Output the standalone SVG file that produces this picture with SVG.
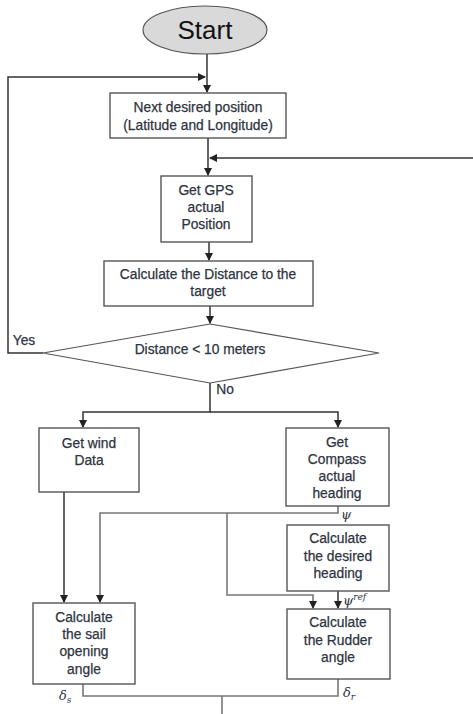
<svg xmlns="http://www.w3.org/2000/svg" width="473" height="714" viewBox="0 0 473 714">
<style>
.box{fill:#fff;stroke:#555;stroke-width:1.4}
.t{font-family:"Liberation Sans",Arial,sans-serif;font-size:13.8px;fill:#2e3440;stroke:#2e3440;stroke-width:0.25;text-anchor:middle}
.c{fill:none;stroke:#333;stroke-width:1.5}
.g{fill:none;stroke:#777;stroke-width:1.6}
.m{font-family:"DejaVu Serif","Liberation Serif",serif;font-style:italic;fill:#2e3440}
</style>
<defs>
<marker id="ah" markerWidth="8" markerHeight="8" refX="7" refY="4" orient="auto" markerUnits="userSpaceOnUse">
<path d="M0,0 L8,4 L0,8 Z" fill="#222"/>
</marker>
</defs>
<g id="connectors">
<path class="c" d="M207 54 V92" marker-end="url(#ah)"/>
<path class="c" d="M43 353 H8 V77 H205" marker-end="url(#ah)"/>
<path class="c" d="M208 138 V175" marker-end="url(#ah)"/>
<path class="c" d="M473 158 H210" marker-end="url(#ah)"/>
<path class="c" d="M209 242 V260" marker-end="url(#ah)"/>
<path class="c" d="M210 306 V323" marker-end="url(#ah)"/>
<path class="c" d="M210 383 V412 H83 V427" marker-end="url(#ah)"/>
<path class="c" d="M210 412 H338 V427" marker-end="url(#ah)"/>
<path class="c" d="M64 492 V602" marker-end="url(#ah)"/>
<path class="g" d="M338 506 V513 H100 V602" marker-end="url(#ah)"/>
<path class="g" d="M227 513 V595 H313 V608" marker-end="url(#ah)"/>
<path class="c" d="M338 591 V608" marker-end="url(#ah)"/>
<path class="g" d="M83 684 V696 H338 V679"/>
<path class="g" d="M222 696 V714"/>
</g>
<g id="start">
<ellipse cx="205" cy="30" rx="62" ry="24" fill="#d9d9d9" stroke="#555" stroke-width="1.2"/>
<text x="205" y="39" class="t" style="font-size:26px;fill:#111;stroke:none">Start</text>
</g>
<g id="next">
<rect class="box" x="110" y="93" width="176" height="45"/>
<text class="t" x="198" y="112">Next desired position</text>
<text class="t" x="198" y="130">(Latitude and Longitude)</text>
</g>
<g id="gps">
<rect class="box" x="161" y="176" width="91" height="66"/>
<text class="t" x="206" y="195">Get GPS</text>
<text class="t" x="206" y="212">actual</text>
<text class="t" x="206" y="229">Position</text>
</g>
<g id="distance">
<rect class="box" x="104" y="261" width="209" height="45"/>
<text class="t" x="208" y="279">Calculate the Distance to the</text>
<text class="t" x="208" y="296">target</text>
</g>
<g id="decision">
<polygon points="210,324 379,353 210,383 43,353" fill="#fff" stroke="#555" stroke-width="1.2"/>
<text class="t" x="200" y="354">Distance &lt; 10 meters</text>
<text class="t" x="24" y="345">Yes</text>
<text class="t" x="225" y="394">No</text>
</g>
<g id="wind">
<rect class="box" x="39" y="428" width="100" height="64"/>
<text class="t" x="89" y="448">Get wind</text>
<text class="t" x="89" y="465">Data</text>
</g>
<g id="compass">
<rect class="box" x="286" y="428" width="103" height="78"/>
<text class="t" x="337" y="447">Get</text>
<text class="t" x="337" y="464">Compass</text>
<text class="t" x="337" y="481">actual</text>
<text class="t" x="337" y="498">heading</text>
<text class="m" x="341" y="519" font-size="13">ψ</text>
</g>
<g id="desired">
<rect class="box" x="287" y="525" width="102" height="66"/>
<text class="t" x="338" y="543">Calculate</text>
<text class="t" x="338" y="561">the desired</text>
<text class="t" x="338" y="578">heading</text>
<text class="m" x="343" y="605" font-size="13">ψ<tspan font-size="9" dy="-5">ref</tspan></text>
</g>
<g id="sail">
<rect class="box" x="33" y="603" width="102" height="81"/>
<text class="t" x="84" y="622">Calculate</text>
<text class="t" x="84" y="639">the sail</text>
<text class="t" x="84" y="656">opening</text>
<text class="t" x="84" y="674">angle</text>
<text class="m" x="59" y="700" font-size="13">δ<tspan font-size="9" dy="3">s</tspan></text>
</g>
<g id="rudder">
<rect class="box" x="287" y="609" width="103" height="70"/>
<text class="t" x="338" y="627">Calculate</text>
<text class="t" x="338" y="645">the Rudder</text>
<text class="t" x="338" y="662">angle</text>
<text class="m" x="343" y="697" font-size="13">δ<tspan font-size="9" dy="3">r</tspan></text>
</g>
</svg>
